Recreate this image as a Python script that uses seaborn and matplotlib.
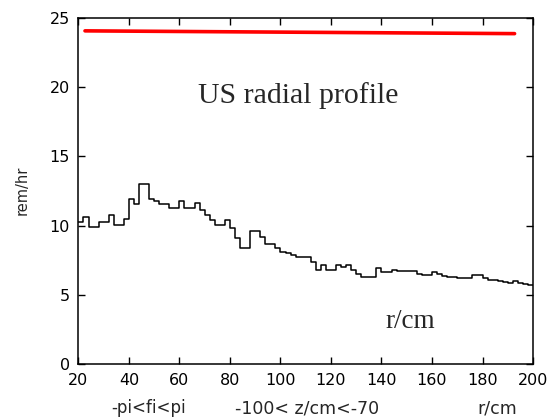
import numpy as np
import pandas as pd
import matplotlib
matplotlib.use("Agg")
import matplotlib.pyplot as plt
import seaborn as sns

# радиальный профиль, бины по 2 см от 20 до 200
r_bin_start = list(range(20, 200, 2))
dose_rate = [
    10.3, 10.6, 9.88, 9.88, 10.3, 10.3, 10.75, 10.05, 10.05, 10.45,
    11.9, 11.6, 13.0, 13.0, 11.95, 11.8, 11.6, 11.6, 11.25, 11.25,
    11.75, 11.25, 11.25, 11.66, 11.13, 10.77, 10.4, 10.05, 10.05, 10.38,
    9.85, 9.09, 8.37, 8.37, 9.6, 9.6, 9.21, 8.68, 8.68, 8.37,
    8.13, 8.01, 7.89, 7.77, 7.77, 7.72, 7.36, 6.81, 7.17, 6.81,
    6.81, 7.17, 7.0, 7.17, 6.81, 6.52, 6.28, 6.28, 6.28, 6.93,
    6.69, 6.69, 6.81, 6.75, 6.72, 6.72, 6.7, 6.55, 6.45, 6.45,
    6.64, 6.52, 6.37, 6.3, 6.28, 6.25, 6.21, 6.21, 6.45, 6.45,
    6.21, 6.08, 6.08, 6.0, 5.95, 5.85, 6.0, 5.85, 5.8, 5.7,
]

# красная линия сверху
ref_r = [22.6, 192.7]
ref_val = [24.05, 23.85]

x_ticks = list(range(20, 201, 20))
y_ticks = [0, 5, 10, 15, 20, 25]

df = pd.DataFrame({"r": r_bin_start, "rate": dose_rate})
df_ref = pd.DataFrame({"r": ref_r, "rate": ref_val})

sns.set_style("ticks")
plt.rcParams["font.family"] = ["DejaVu Sans"]

fig = plt.figure(figsize=(5.55, 4.19), dpi=100)
ax = fig.add_axes([0.1413, 0.1303, 0.8191, 0.8275])

sns.histplot(data=df, x="r", weights="rate", binwidth=2, binrange=(20, 200),
             element="step", fill=False, color="black", linewidth=1.1, ax=ax)
sns.lineplot(data=df_ref, x="r", y="rate", color="#ff0000", linewidth=2.6, ax=ax)

ax.set_xlim(20, 200)
ax.set_ylim(0, 25)
ax.set_xticks(x_ticks)
ax.set_yticks(y_ticks)
ax.tick_params(direction="in", top=True, right=True, length=5, width=1,
               labelsize=11.5, colors="black", pad=6)
for s in ax.spines.values():
    s.set_color("black")
    s.set_linewidth(1.1)
ax.set_xlabel("")
ax.set_ylabel("")

ax.text(106.9, 19.4, "US radial profile", family="Liberation Serif",
        fontsize=21.5, ha="center", va="center")
ax.text(151.2, 3.06, "r/cm", family="Liberation Serif",
        fontsize=19.5, ha="center", va="center")

fig.text(0.04, 0.545, "rem/hr", rotation=90, ha="center", va="center", fontsize=10.5)
fig.text(0.268, 0.026, "-pi<fi<pi", ha="center", va="center", fontsize=12)
fig.text(0.553, 0.026, "-100< z/cm<-70", ha="center", va="center", fontsize=12.5)
fig.text(0.896, 0.026, "r/cm", ha="center", va="center", fontsize=12.5)

fig.savefig("out.png", dpi=100)
